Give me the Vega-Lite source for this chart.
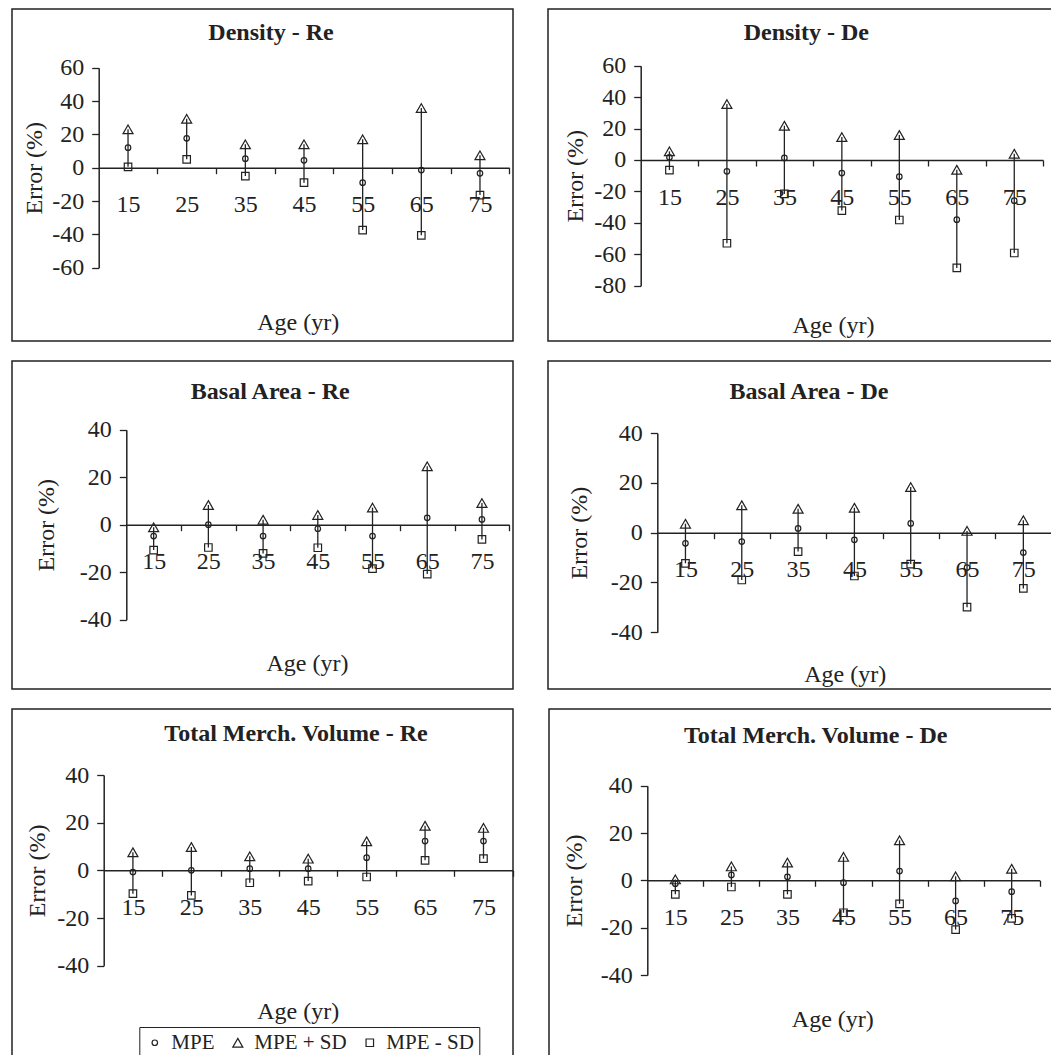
{
  "$schema": "https://vega.github.io/schema/vega-lite/v6.json",
  "background": "white",
  "padding": {"left": 11, "top": 8, "right": 0, "bottom": 0},
  "datasets": {
    "err": [
      {"p": "DR", "age": 15, "mpe": 12, "hi": 23, "lo": 0.5},
      {"p": "DR", "age": 25, "mpe": 17.6, "hi": 29.3, "lo": 5},
      {"p": "DR", "age": 35, "mpe": 5.4, "hi": 14, "lo": -5},
      {"p": "DR", "age": 45, "mpe": 4.4, "hi": 14, "lo": -9},
      {"p": "DR", "age": 55, "mpe": -9, "hi": 17, "lo": -37.4},
      {"p": "DR", "age": 65, "mpe": -1.4, "hi": 35.8, "lo": -40.6},
      {"p": "DR", "age": 75, "mpe": -3.4, "hi": 7.4, "lo": -16.4},
      {"p": "DD", "age": 15, "mpe": 1.7, "hi": 5.5, "lo": -6.4},
      {"p": "DD", "age": 25, "mpe": -7.2, "hi": 35.6, "lo": -53},
      {"p": "DD", "age": 35, "mpe": 1.3, "hi": 21.8, "lo": -21.6},
      {"p": "DD", "age": 45, "mpe": -8.3, "hi": 14.6, "lo": -32.2},
      {"p": "DD", "age": 55, "mpe": -10.6, "hi": 15.9, "lo": -38.2},
      {"p": "DD", "age": 65, "mpe": -38, "hi": -6.2, "lo": -68.7},
      {"p": "DD", "age": 75, "mpe": -25.9, "hi": 4, "lo": -59.2},
      {"p": "BR", "age": 15, "mpe": -4.8, "hi": -1.1, "lo": -10.7},
      {"p": "BR", "age": 25, "mpe": 0, "hi": 8.3, "lo": -9.6},
      {"p": "BR", "age": 35, "mpe": -4.8, "hi": 2.1, "lo": -12.1},
      {"p": "BR", "age": 45, "mpe": -1.7, "hi": 4.1, "lo": -9.7},
      {"p": "BR", "age": 55, "mpe": -4.8, "hi": 7.2, "lo": -18.5},
      {"p": "BR", "age": 65, "mpe": 2.9, "hi": 24.6, "lo": -20.8},
      {"p": "BR", "age": 75, "mpe": 2.2, "hi": 9.1, "lo": -6.2},
      {"p": "BD", "age": 15, "mpe": -4.3, "hi": 3.6, "lo": -12.3},
      {"p": "BD", "age": 25, "mpe": -3.6, "hi": 11, "lo": -19},
      {"p": "BD", "age": 35, "mpe": 1.7, "hi": 9.6, "lo": -7.6},
      {"p": "BD", "age": 45, "mpe": -2.9, "hi": 10, "lo": -17.4},
      {"p": "BD", "age": 55, "mpe": 3.7, "hi": 18.3, "lo": -12.6},
      {"p": "BD", "age": 65, "mpe": -14, "hi": 0.7, "lo": -29.9},
      {"p": "BD", "age": 75, "mpe": -8, "hi": 5, "lo": -22.4},
      {"p": "VR", "age": 15, "mpe": -0.7, "hi": 7.6, "lo": -9.8},
      {"p": "VR", "age": 25, "mpe": 0, "hi": 9.8, "lo": -10.5},
      {"p": "VR", "age": 35, "mpe": 0.7, "hi": 5.9, "lo": -5.2},
      {"p": "VR", "age": 45, "mpe": 0.7, "hi": 4.9, "lo": -4.5},
      {"p": "VR", "age": 55, "mpe": 5.3, "hi": 12.2, "lo": -2.8},
      {"p": "VR", "age": 65, "mpe": 12.3, "hi": 18.7, "lo": 4.2},
      {"p": "VR", "age": 75, "mpe": 12.3, "hi": 17.8, "lo": 4.9},
      {"p": "VD", "age": 15, "mpe": -1.4, "hi": 0.4, "lo": -5.9},
      {"p": "VD", "age": 25, "mpe": 2.3, "hi": 5.9, "lo": -2.8},
      {"p": "VD", "age": 35, "mpe": 1.5, "hi": 7.5, "lo": -5.9},
      {"p": "VD", "age": 45, "mpe": -1, "hi": 9.9, "lo": -13.7},
      {"p": "VD", "age": 55, "mpe": 3.9, "hi": 16.9, "lo": -9.9},
      {"p": "VD", "age": 65, "mpe": -8.7, "hi": 1.7, "lo": -20.8},
      {"p": "VD", "age": 75, "mpe": -4.8, "hi": 4.9, "lo": -16.1}
    ]
  },
  "spacing": 18,
  "vconcat": [
    {
      "spacing": 33,
      "hconcat": [
        {
          "width": 501, "height": 332,
          "title": {"text": "Density - Re", "dx": 8.5, "dy": 40.2},
          "data": {"name": "err"},
          "transform": [{"filter": "datum.p === 'DR'"}],
          "layer": [
            {
              "mark": {"type": "rule", "color": "#222", "strokeWidth": 1.3},
              "encoding": {
                "x": {"field": "age", "type": "quantitative", "title": "Age (yr)",
                  "scale": {"domain": [10, 80], "range": [86.7, 497.3], "nice": false, "zero": false},
                  "axis": {"values": [15, 25, 35, 45, 55, 65, 75], "tickOffset": 29.33, "labelOffset": -29.33,
                    "offset": -173.3, "titleX": 285.7, "titleY": 161.3}},
                "y": {"field": "lo", "type": "quantitative", "title": "Error (%)",
                  "scale": {"domain": [-60, 60], "range": [258.7, 58.7], "nice": false, "zero": false},
                  "axis": {"values": [-60, -40, -20, 0, 20, 40, 60], "offset": -86.7, "titleX": -63.7}},
                "y2": {"field": "hi"}
              }
            },
            {
              "transform": [{"fold": ["mpe", "hi", "lo"], "as": ["series", "value"]}],
              "mark": {"type": "point", "filled": false, "color": "#222", "strokeWidth": 1.2, "opacity": 1, "size": 100},
              "encoding": {
                "x": {"field": "age", "type": "quantitative", "title": "Age (yr)"},
                "y": {"field": "value", "type": "quantitative", "title": "Error (%)"},
                "shape": {"field": "series", "type": "nominal", "scale": {"domain": ["mpe", "hi", "lo"], "range": ["M0.55,0A0.55,0.55 0 1,1 -0.55,0A0.55,0.55 0 1,1 0.55,0Z", "M0,-0.87L1,0.87L-1,0.87Z", "M-0.75,-0.75L0.75,-0.75L0.75,0.75L-0.75,0.75Z"]}, "legend": null}
              }
            }
          ]
        },
        {
          "width": 520, "height": 332,
          "title": {"text": "Density - De", "dx": -1.7, "dy": 40.2},
          "data": {"name": "err"},
          "transform": [{"filter": "datum.p === 'DD'"}],
          "layer": [
            {
              "mark": {"type": "rule", "color": "#222", "strokeWidth": 1.3},
              "encoding": {
                "x": {"field": "age", "type": "quantitative", "title": "Age (yr)",
                  "scale": {"domain": [10, 80], "range": [92.7, 495], "nice": false, "zero": false},
                  "axis": {"values": [15, 25, 35, 45, 55, 65, 75], "tickOffset": 28.74, "labelOffset": -28.74,
                    "offset": -181, "titleX": 285, "titleY": 172.4}},
                "y": {"field": "lo", "type": "quantitative", "title": "Error (%)",
                  "scale": {"domain": [-80, 60], "range": [276.7, 56.7], "nice": false, "zero": false},
                  "axis": {"values": [-80, -60, -40, -20, 0, 20, 40, 60], "offset": -92.7, "titleX": -65.4}},
                "y2": {"field": "hi"}
              }
            },
            {
              "transform": [{"fold": ["mpe", "hi", "lo"], "as": ["series", "value"]}],
              "mark": {"type": "point", "filled": false, "color": "#222", "strokeWidth": 1.2, "opacity": 1, "size": 100},
              "encoding": {
                "x": {"field": "age", "type": "quantitative", "title": "Age (yr)"},
                "y": {"field": "value", "type": "quantitative", "title": "Error (%)"},
                "shape": {"field": "series", "type": "nominal", "scale": {"domain": ["mpe", "hi", "lo"], "range": ["M0.55,0A0.55,0.55 0 1,1 -0.55,0A0.55,0.55 0 1,1 0.55,0Z", "M0,-0.87L1,0.87L-1,0.87Z", "M-0.75,-0.75L0.75,-0.75L0.75,0.75L-0.75,0.75Z"]}, "legend": null}
              }
            }
          ]
        }
      ]
    },
    {
      "spacing": 33,
      "hconcat": [
        {
          "width": 501, "height": 328,
          "title": {"text": "Basal Area - Re", "dx": 7.8, "dy": 46.7},
          "data": {"name": "err"},
          "transform": [{"filter": "datum.p === 'BR'"}],
          "layer": [
            {
              "mark": {"type": "rule", "color": "#222", "strokeWidth": 1.3},
              "encoding": {
                "x": {"field": "age", "type": "quantitative", "title": "Age (yr)",
                  "scale": {"domain": [10, 80], "range": [114.3, 497.3], "nice": false, "zero": false},
                  "axis": {"values": [15, 25, 35, 45, 55, 65, 75], "tickOffset": 27.36, "labelOffset": -27.36,
                    "offset": -164.3, "titleX": 295, "titleY": 146}},
                "y": {"field": "lo", "type": "quantitative", "title": "Error (%)",
                  "scale": {"domain": [-40, 40], "range": [258.7, 68.7], "nice": false, "zero": false},
                  "axis": {"values": [-40, -20, 0, 20, 40], "offset": -114.3, "titleX": -80.3}},
                "y2": {"field": "hi"}
              }
            },
            {
              "transform": [{"fold": ["mpe", "hi", "lo"], "as": ["series", "value"]}],
              "mark": {"type": "point", "filled": false, "color": "#222", "strokeWidth": 1.2, "opacity": 1, "size": 100},
              "encoding": {
                "x": {"field": "age", "type": "quantitative", "title": "Age (yr)"},
                "y": {"field": "value", "type": "quantitative", "title": "Error (%)"},
                "shape": {"field": "series", "type": "nominal", "scale": {"domain": ["mpe", "hi", "lo"], "range": ["M0.55,0A0.55,0.55 0 1,1 -0.55,0A0.55,0.55 0 1,1 0.55,0Z", "M0,-0.87L1,0.87L-1,0.87Z", "M-0.75,-0.75L0.75,-0.75L0.75,0.75L-0.75,0.75Z"]}, "legend": null}
              }
            }
          ]
        },
        {
          "width": 520, "height": 328,
          "title": {"text": "Basal Area - De", "dx": 1, "dy": 46.7},
          "data": {"name": "err"},
          "transform": [{"filter": "datum.p === 'BD'"}],
          "layer": [
            {
              "mark": {"type": "rule", "color": "#222", "strokeWidth": 1.3},
              "encoding": {
                "x": {"field": "age", "type": "quantitative", "title": "Age (yr)",
                  "scale": {"domain": [10, 80], "range": [109.3, 503.5], "nice": false, "zero": false},
                  "axis": {"values": [15, 25, 35, 45, 55, 65, 75], "tickOffset": 28.16, "labelOffset": -28.16,
                    "offset": -156.3, "titleX": 296.7, "titleY": 148.3}},
                "y": {"field": "lo", "type": "quantitative", "title": "Error (%)",
                  "scale": {"domain": [-40, 40], "range": [271.3, 72], "nice": false, "zero": false},
                  "axis": {"values": [-40, -20, 0, 20, 40], "offset": -109.3, "titleX": -78}},
                "y2": {"field": "hi"}
              }
            },
            {
              "transform": [{"fold": ["mpe", "hi", "lo"], "as": ["series", "value"]}],
              "mark": {"type": "point", "filled": false, "color": "#222", "strokeWidth": 1.2, "opacity": 1, "size": 100},
              "encoding": {
                "x": {"field": "age", "type": "quantitative", "title": "Age (yr)"},
                "y": {"field": "value", "type": "quantitative", "title": "Error (%)"},
                "shape": {"field": "series", "type": "nominal", "scale": {"domain": ["mpe", "hi", "lo"], "range": ["M0.55,0A0.55,0.55 0 1,1 -0.55,0A0.55,0.55 0 1,1 0.55,0Z", "M0,-0.87L1,0.87L-1,0.87Z", "M-0.75,-0.75L0.75,-0.75L0.75,0.75L-0.75,0.75Z"]}, "legend": null}
              }
            }
          ]
        }
      ]
    },
    {
      "spacing": 33,
      "hconcat": [
        {
          "width": 501, "height": 360,
          "title": {"text": "Total Merch. Volume - Re", "dx": 33.5, "dy": 41},
          "data": {"name": "err"},
          "transform": [{"filter": "datum.p === 'VR'"}],
          "layer": [
            {
              "mark": {"type": "rule", "color": "#222", "strokeWidth": 1.3},
              "encoding": {
                "x": {"field": "age", "type": "quantitative", "title": "Age (yr)",
                  "scale": {"domain": [10, 80], "range": [91.7, 500.7], "nice": false, "zero": false},
                  "axis": {"values": [15, 25, 35, 45, 55, 65, 75], "tickOffset": 29.21, "labelOffset": -29.21,
                    "offset": -198.7, "titleX": 285.7, "titleY": 148.3}},
                "y": {"field": "lo", "type": "quantitative", "title": "Error (%)",
                  "scale": {"domain": [-40, 40], "range": [256.7, 66], "nice": false, "zero": false},
                  "axis": {"values": [-40, -20, 0, 20, 40], "offset": -91.7, "titleX": -66}},
                "y2": {"field": "hi"}
              }
            },
            {
              "transform": [{"fold": ["mpe", "hi", "lo"], "as": ["series", "value"]}],
              "mark": {"type": "point", "filled": false, "color": "#222", "strokeWidth": 1.2, "opacity": 1, "size": 100},
              "encoding": {
                "x": {"field": "age", "type": "quantitative", "title": "Age (yr)"},
                "y": {"field": "value", "type": "quantitative", "title": "Error (%)"},
                "shape": {"field": "series", "type": "nominal", "scale": {"domain": ["mpe", "hi", "lo"], "range": ["M0.55,0A0.55,0.55 0 1,1 -0.55,0A0.55,0.55 0 1,1 0.55,0Z", "M0,-0.87L1,0.87L-1,0.87Z", "M-0.75,-0.75L0.75,-0.75L0.75,0.75L-0.75,0.75Z"]},
                  "legend": {"orient": "none", "legendX": 127.3, "legendY": 318, "direction": "horizontal", "title": null,
                    "strokeColor": "#222", "padding": 5, "labelFont": "Liberation Serif", "labelFontSize": 21, "labelColor": "#222",
                    "columnPadding": 12, "labelOffset": 6, "symbolSize": 100, "symbolStrokeColor": "#222", "symbolStrokeWidth": 1.2,
                    "labelExpr": "datum.value === 'mpe' ? 'MPE' : datum.value === 'hi' ? 'MPE + SD' : 'MPE - SD'"}}
              }
            }
          ]
        },
        {
          "width": 520, "height": 360,
          "title": {"text": "Total Merch. Volume -  De", "dx": 6.7, "dy": 43.3},
          "data": {"name": "err"},
          "transform": [{"filter": "datum.p === 'VD'"}],
          "layer": [
            {
              "mark": {"type": "rule", "color": "#222", "strokeWidth": 1.3},
              "encoding": {
                "x": {"field": "age", "type": "quantitative", "title": "Age (yr)",
                  "scale": {"domain": [10, 80], "range": [98.3, 490.7], "nice": false, "zero": false},
                  "axis": {"values": [15, 25, 35, 45, 55, 65, 75], "tickOffset": 28.03, "labelOffset": -28.03,
                    "offset": -188.7, "titleX": 283.3, "titleY": 145.7}},
                "y": {"field": "lo", "type": "quantitative", "title": "Error (%)",
                  "scale": {"domain": [-40, 40], "range": [266, 76.7], "nice": false, "zero": false},
                  "axis": {"values": [-40, -20, 0, 20, 40], "offset": -98.3, "titleX": -73.3}},
                "y2": {"field": "hi"}
              }
            },
            {
              "transform": [{"fold": ["mpe", "hi", "lo"], "as": ["series", "value"]}],
              "mark": {"type": "point", "filled": false, "color": "#222", "strokeWidth": 1.2, "opacity": 1, "size": 100},
              "encoding": {
                "x": {"field": "age", "type": "quantitative", "title": "Age (yr)"},
                "y": {"field": "value", "type": "quantitative", "title": "Error (%)"},
                "shape": {"field": "series", "type": "nominal", "scale": {"domain": ["mpe", "hi", "lo"], "range": ["M0.55,0A0.55,0.55 0 1,1 -0.55,0A0.55,0.55 0 1,1 0.55,0Z", "M0,-0.87L1,0.87L-1,0.87Z", "M-0.75,-0.75L0.75,-0.75L0.75,0.75L-0.75,0.75Z"]}, "legend": null}
              }
            }
          ]
        }
      ]
    }
  ],
  "resolve": {"scale": {"x": "independent", "y": "independent"}, "legend": {"shape": "independent"}},
  "config": {
    "view": {"stroke": "#222", "strokeWidth": 1.5},
    "title": {"font": "Liberation Serif", "fontSize": 24, "fontWeight": "bold", "color": "#222", "anchor": "middle", "frame": "group", "baseline": "alphabetic", "offset": 0},
    "axis": {"grid": false, "domainColor": "#222", "domainWidth": 1.5, "tickColor": "#222", "tickWidth": 1.3,
      "labelFont": "Liberation Serif", "labelFontSize": 24, "labelColor": "#222",
      "titleFont": "Liberation Serif", "titleFontSize": 24, "titleFontWeight": "normal", "titleColor": "#222"},
    "axisX": {"tickSize": 6, "labelPadding": 19, "labelOverlap": false, "labelFlush": false, "titleBaseline": "alphabetic", "titleAlign": "center"},
    "axisY": {"tickSize": 7, "labelPadding": 8, "titleBaseline": "middle", "labelOverlap": false, "labelExpr": "replace(datum.label, '\u2212', '-')"}
  }
}
